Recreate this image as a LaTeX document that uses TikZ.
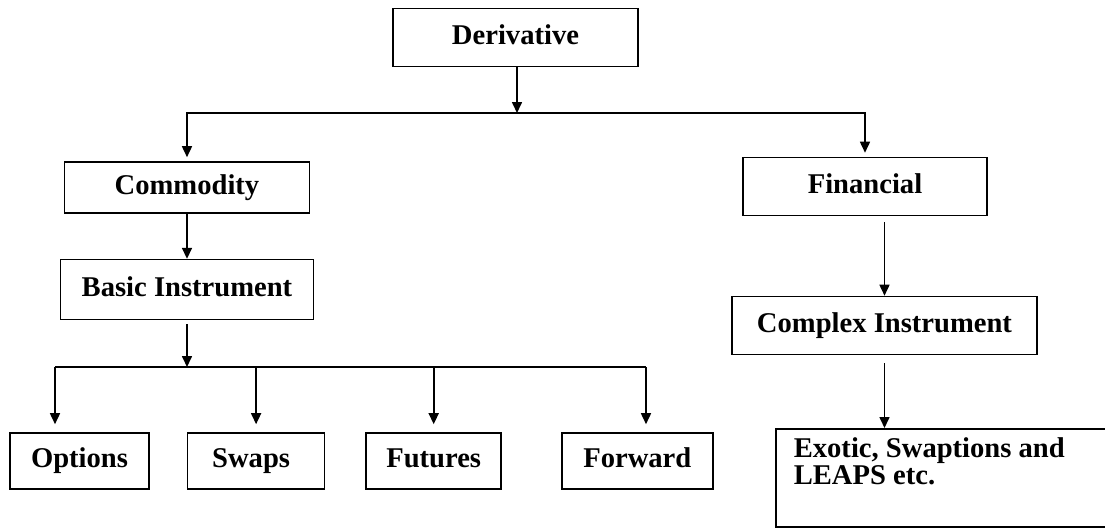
\documentclass[tikz,border=0pt]{standalone}
\usepackage{fontspec}
\setmainfont{Liberation Serif}
\usetikzlibrary{positioning,arrows.meta}
\tikzset{my frame/.style={draw,thick,font=\fontsize{14.3}{13.4}\selectfont\bfseries,inner sep=0pt},
my box/.style={my frame,minimum width=#1,minimum height=29pt,text height=9.6pt,text depth=3pt},
my arrow/.style={thick,-{Triangle[length=5.5pt,width=5pt]}}}

\begin{document}
\begin{tikzpicture}[x=0.5pt,y=-0.5pt]
\useasboundingbox (0,0) rectangle (1105,527);
\clip (0,0) rectangle (1105,527);
\node[my box=122.5pt] (deriv) at (515.5,37.5) {Derivative};
\node[my box=122.5pt,minimum height=25.5pt] (comm) at (187,187.5) {Commodity};
\node[my box=126.5pt,minimum height=30pt] (basic) [below=22.5pt of comm] {Basic Instrument};
\node[my box=122pt] (fin) at (865,186.5) {Financial};
\node[my box=152.5pt] (cplx) at (884.5,325.5) {Complex Instrument};
\node[my frame,anchor=north west,minimum width=170pt,inner xsep=9pt,inner ysep=4.5pt] (exo) at (775,428) {\parbox[c][40pt][t]{152pt}{\raggedright Exotic, Swaptions and\\LEAPS etc.}};
\node[my box=69.5pt,minimum height=28pt] (opt) at (79.5,461) {Options};
\node[my box=68.5pt,minimum height=28pt] (swp) [right=18.5pt of opt] {Swaps\hspace*{5pt}};
\node[my box=67.5pt,minimum height=28pt] (fut) [right=20pt of swp] {Futures};
\node[my box=75.5pt,minimum height=28pt] (fwd) [right=29.5pt of fut] {Forward};
\coordinate (top) at (517,113);
\coordinate (bus) at (187,367);
\coordinate (busL) at (55,367);
\coordinate (busR) at (646,367);
\draw[my arrow] (top |- deriv.south) -- (top);
\draw[my arrow,shorten >=2pt] (top) -| (comm);
\draw[my arrow,shorten >=2pt] (top) -| (fin);
\draw[my arrow] (comm) -- (basic);
\draw[my arrow,shorten <=2pt] (basic) -- (bus);
\draw[thick] (busL) -- (busR);
\draw[my arrow,shorten >=4pt] (busL) -- (busL |- opt.north);
\draw[my arrow,shorten >=4pt] (swp |- bus) -- (swp);
\draw[my arrow,shorten >=4pt] (fut |- bus) -- (fut);
\draw[my arrow,shorten >=4pt] (busR) -- (busR |- fwd.north);
\draw[my arrow,shorten <=3pt] (cplx |- fin.south) -- (cplx);
\draw[my arrow,shorten <=4pt] (cplx) -- (cplx |- exo.north);
\end{tikzpicture}
\end{document}
